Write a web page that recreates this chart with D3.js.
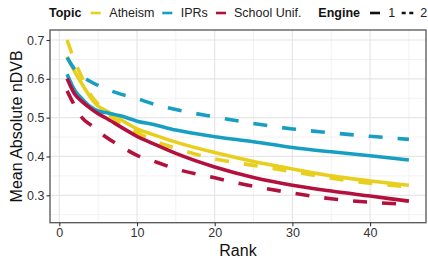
<!DOCTYPE html>
<html><head><meta charset="utf-8">
<script src="https://cdn.jsdelivr.net/npm/d3@7"></script>
<style>html,body{margin:0;padding:0;background:#fff;}svg{display:block;font-family:"Liberation Sans",Arial,sans-serif;}</style>
</head><body><svg id="c" width="428" height="261"></svg>
<script>
const ranks = [1,2,3,4,5,6,8,10,12,15,20,25,30,35,40,45];
const atheism1 = [0.657,0.618,0.584,0.553,0.530,0.518,0.494,0.471,0.457,0.437,0.410,0.387,0.368,0.350,0.337,0.326];
const atheism2 = [0.700,0.645,0.600,0.560,0.535,0.515,0.483,0.462,0.442,0.421,0.394,0.377,0.361,0.344,0.331,0.322];
const iprs1    = [0.612,0.570,0.547,0.528,0.517,0.513,0.504,0.491,0.483,0.468,0.451,0.438,0.423,0.412,0.402,0.391];
const iprs2    = [0.655,0.624,0.606,0.593,0.583,0.574,0.560,0.549,0.536,0.521,0.502,0.485,0.471,0.461,0.452,0.444];
const school1  = [0.601,0.560,0.540,0.524,0.510,0.499,0.475,0.452,0.434,0.408,0.373,0.346,0.326,0.311,0.298,0.285];
const school2  = [0.569,0.530,0.498,0.482,0.465,0.450,0.425,0.403,0.389,0.368,0.345,0.323,0.306,0.291,0.282,0.277];
const topics = ["Atheism","IPRs","School Unif."];
const engines = ["1","2"];
const colors = ["#E8CF1E","#179FC2","#B3103D"];
const xTicks = [0,10,20,30,40];
const yTicks = [0.3,0.4,0.5,0.6,0.7];

const series = [
  {topic:"Atheism",engine:"1",values:atheism1},
  {topic:"Atheism",engine:"2",values:atheism2},
  {topic:"IPRs",engine:"1",values:iprs1},
  {topic:"IPRs",engine:"2",values:iprs2},
  {topic:"School Unif.",engine:"1",values:school1},
  {topic:"School Unif.",engine:"2",values:school2}
];

const svg = d3.select("#c");
const L=50, R=426, T=30, B=222.7;
const x = d3.scaleLinear().domain([-1.2,47.2]).range([L,R]);
const y = d3.scaleLinear().domain([0.2294,0.7258]).range([B,T]);
const color = d3.scaleOrdinal().domain(topics).range(colors);

// grid
const g = svg.append("g");
const xMinor = d3.range(-5,50,10), yMinor = [0.25,0.35,0.45,0.55,0.65];
g.selectAll(".xm").data(xMinor.filter(v=>x(v)>L&&x(v)<R)).join("line")
  .attr("x1",d=>x(d)).attr("x2",d=>x(d)).attr("y1",T).attr("y2",B).attr("stroke","#f2f2f2").attr("stroke-width",1);
g.selectAll(".ym").data(yMinor).join("line")
  .attr("x1",L).attr("x2",R).attr("y1",d=>y(d)).attr("y2",d=>y(d)).attr("stroke","#f2f2f2").attr("stroke-width",1);
g.selectAll(".xM").data(xTicks).join("line")
  .attr("x1",d=>x(d)).attr("x2",d=>x(d)).attr("y1",T).attr("y2",B).attr("stroke","#e6e6e6").attr("stroke-width",1.2);
g.selectAll(".yM").data(yTicks).join("line")
  .attr("x1",L).attr("x2",R).attr("y1",d=>y(d)).attr("y2",d=>y(d)).attr("stroke","#e6e6e6").attr("stroke-width",1.2);

// lines
const line = d3.line().x(d=>x(d[0])).y(d=>y(d[1])).curve(d3.curveMonotoneX);
const clip = svg.append("clipPath").attr("id","cp").append("rect").attr("x",L).attr("y",T).attr("width",R-L).attr("height",B-T);
svg.append("g").attr("clip-path","url(#cp)").selectAll("path").data(series).join("path")
  .attr("d",s=>line(ranks.map((r,i)=>[r,s.values[i]])))
  .attr("fill","none").attr("stroke",s=>color(s.topic)).attr("stroke-width",3.6)
  .attr("stroke-dasharray",s=>s.engine==="2"?"14,15":null);

// border
svg.append("rect").attr("x",L).attr("y",T).attr("width",R-L).attr("height",B-T)
  .attr("fill","none").attr("stroke","#555").attr("stroke-width",1.3);

// axes
const xa = svg.append("g").attr("transform",`translate(0,${B})`)
  .call(d3.axisBottom(x).tickValues(xTicks).tickSize(3.5).tickPadding(2).tickFormat(d3.format("d")));
const ya = svg.append("g").attr("transform",`translate(${L},0)`)
  .call(d3.axisLeft(y).tickValues(yTicks).tickSize(3.5).tickPadding(2).tickFormat(d3.format(".1f")));
[xa,ya].forEach(a=>{
  a.select(".domain").remove();
  a.selectAll(".tick line").attr("stroke","#333").attr("stroke-width",1.1);
  a.selectAll(".tick text").attr("fill","#333").style("font-size","12.5px").style("font-family","'Liberation Sans',Arial,sans-serif");
});

svg.append("text").attr("x",(L+R)/2).attr("y",256).attr("text-anchor","middle")
  .style("font-size","16px").attr("fill","#111").text("Rank");
svg.append("text").attr("transform",`translate(21.5,${(T+B)/2}) rotate(-90)`).attr("text-anchor","middle")
  .style("font-size","16px").attr("fill","#111").text("Mean Absolute nDVB");

// legend
const ly = 13, lb = 17.4;
const leg = svg.append("g").style("font-size","12.5px");
leg.append("text").attr("x",49).attr("y",lb).style("font-weight","bold").attr("fill","#111").text("Topic");
const keyX = [90.7,162.3,216], txtX = [109.3,180.7,234];
topics.forEach((t,i)=>{
  leg.append("line").attr("x1",keyX[i]).attr("x2",keyX[i]+10).attr("y1",ly).attr("y2",ly)
    .attr("stroke",color(t)).attr("stroke-width",2.6);
  leg.append("text").attr("x",txtX[i]).attr("y",lb).attr("fill","#222").text(t);
});
leg.append("text").attr("x",318.3).attr("y",lb).style("font-weight","bold").attr("fill","#111").text("Engine");
const eKey=[370,401.7], eTxt=[388.3,420.2];
engines.forEach((e,i)=>{
  leg.append("line").attr("x1",eKey[i]).attr("x2",eKey[i]+(i?11.6:10)).attr("y1",ly).attr("y2",ly)
    .attr("stroke","#111").attr("stroke-width",2.6).attr("stroke-dasharray",i?"4,3.6":null);
  leg.append("text").attr("x",eTxt[i]).attr("y",lb).attr("fill","#222").text(e);
});
</script></body></html>
